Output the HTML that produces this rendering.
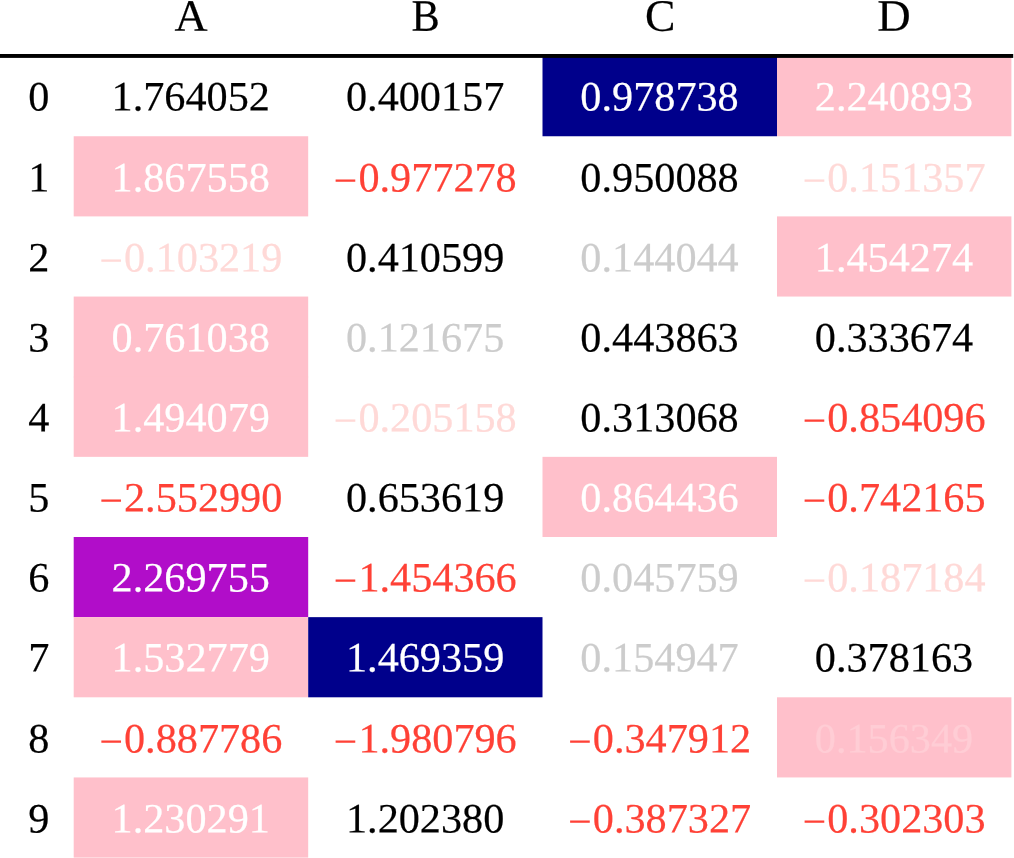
<!DOCTYPE html>
<html><head><meta charset="utf-8"><title>table</title>
<style>
html,body{margin:0;padding:0;background:#fff;}
body{width:1014px;height:858px;position:relative;overflow:hidden;font-family:"Liberation Serif",serif;}
.bgs{position:absolute;left:0;top:0;display:block;}
.t{position:absolute;width:300px;margin-left:-150px;text-align:center;font-size:41.9px;line-height:60px;height:60px;white-space:nowrap;-webkit-text-stroke:0.2px currentColor;transform-origin:150px 44.141px;}
.m{position:relative;top:3.4px;margin-right:1px;-webkit-text-stroke:0;}
.h{font-size:44.92px;transform-origin:150px 45.16px;}
</style></head><body>

<svg class="bgs" width="1014" height="858" viewBox="0 0 1014 858">
<rect x="542.5" y="56.1" width="234.5" height="80.15" fill="#00008B"/>
<rect x="777" y="56.1" width="234.4" height="80.15" fill="#FFC0CB"/>
<rect x="73.7" y="136.25" width="234.5" height="80.15" fill="#FFC0CB"/>
<rect x="777" y="216.4" width="234.4" height="80.15" fill="#FFC0CB"/>
<rect x="73.7" y="296.55" width="234.5" height="80.75" fill="#FFC0CB"/>
<rect x="73.7" y="376.7" width="234.5" height="80.15" fill="#FFC0CB"/>
<rect x="542.5" y="456.85" width="234.5" height="80.15" fill="#FFC0CB"/>
<rect x="73.7" y="537" width="234.5" height="80.15" fill="#B10DC9"/>
<rect x="73.7" y="617.15" width="234.5" height="80.15" fill="#FFC0CB"/>
<rect x="308.2" y="617.15" width="234.3" height="80.15" fill="#00008B"/>
<rect x="777" y="697.3" width="234.4" height="80.15" fill="#FFC0CB"/>
<rect x="73.7" y="777.45" width="234.5" height="80.15" fill="#FFC0CB"/>
<rect x="0" y="54" width="1013.2" height="3.9" fill="#000"/>
</svg>
<div role="table">
<div role="row">
<div role="columnheader" class="t h" style="left:191px;top:-15px;transform:translate(0.05px,0.84px) rotate(0.04deg) scale(1.02,1);">A</div>
<div role="columnheader" class="t h" style="left:425px;top:-15px;transform:translate(0.6px,0.84px) rotate(0.04deg) scale(0.94,1);">B</div>
<div role="columnheader" class="t h" style="left:660px;top:-15px;transform:translate(0.1px,0.84px) rotate(0.04deg) scale(1.016,1);">C</div>
<div role="columnheader" class="t h" style="left:893px;top:-15px;transform:translate(0.9px,0.84px) rotate(0.04deg) scale(1.03,1);">D</div>
</div>
<div role="row">
<div role="rowheader" class="t" style="left:38px;top:66px;transform:translate(0.8px,0.559px) rotate(0.04deg) scale(1.008,1);">0</div>
<div role="cell" class="t" style="left:190px;top:66px;transform:translate(0.75px,0.559px) rotate(0.04deg) scale(1.008,1);">1.764052</div>
<div role="cell" class="t" style="left:425px;top:66px;transform:translate(0.15px,0.559px) rotate(0.04deg) scale(1.008,1);">0.400157</div>
<div role="cell" class="t" style="left:659px;top:66px;transform:translate(0.55px,0.559px) rotate(0.04deg) scale(1.008,1);color:#fff;">0.978738</div>
<div role="cell" class="t" style="left:894px;top:66px;transform:translate(0px,0.559px) rotate(0.04deg) scale(1.008,1);color:#fff;">2.240893</div>
</div>
<div role="row">
<div role="rowheader" class="t" style="left:38px;top:147px;transform:translate(0.8px,0.559px) rotate(0.04deg) scale(1.008,1);">1</div>
<div role="cell" class="t" style="left:190px;top:147px;transform:translate(0.75px,0.559px) rotate(0.04deg) scale(1.008,1);color:#fff;">1.867558</div>
<div role="cell" class="t" style="left:425px;top:147px;transform:translate(0.15px,0.559px) rotate(0.04deg) scale(1.008,1);color:#FF4136;"><span class="m">−</span>0.977278</div>
<div role="cell" class="t" style="left:659px;top:147px;transform:translate(0.55px,0.559px) rotate(0.04deg) scale(1.008,1);">0.950088</div>
<div role="cell" class="t" style="left:894px;top:147px;transform:translate(0px,0.559px) rotate(0.04deg) scale(1.008,1);color:#FFD9D7;"><span class="m">−</span>0.151357</div>
</div>
<div role="row">
<div role="rowheader" class="t" style="left:38px;top:227px;transform:translate(0.8px,0.559px) rotate(0.04deg) scale(1.008,1);">2</div>
<div role="cell" class="t" style="left:190px;top:227px;transform:translate(0.75px,0.559px) rotate(0.04deg) scale(1.008,1);color:#FFD9D7;"><span class="m">−</span>0.103219</div>
<div role="cell" class="t" style="left:425px;top:227px;transform:translate(0.15px,0.559px) rotate(0.04deg) scale(1.008,1);">0.410599</div>
<div role="cell" class="t" style="left:659px;top:227px;transform:translate(0.55px,0.559px) rotate(0.04deg) scale(1.008,1);color:#CCCCCC;">0.144044</div>
<div role="cell" class="t" style="left:894px;top:227px;transform:translate(0px,0.559px) rotate(0.04deg) scale(1.008,1);color:#fff;">1.454274</div>
</div>
<div role="row">
<div role="rowheader" class="t" style="left:38px;top:307px;transform:translate(0.8px,0.559px) rotate(0.04deg) scale(1.008,1);">3</div>
<div role="cell" class="t" style="left:190px;top:307px;transform:translate(0.75px,0.559px) rotate(0.04deg) scale(1.008,1);color:#fff;">0.761038</div>
<div role="cell" class="t" style="left:425px;top:307px;transform:translate(0.15px,0.559px) rotate(0.04deg) scale(1.008,1);color:#CCCCCC;">0.121675</div>
<div role="cell" class="t" style="left:659px;top:307px;transform:translate(0.55px,0.559px) rotate(0.04deg) scale(1.008,1);">0.443863</div>
<div role="cell" class="t" style="left:894px;top:307px;transform:translate(0px,0.559px) rotate(0.04deg) scale(1.008,1);">0.333674</div>
</div>
<div role="row">
<div role="rowheader" class="t" style="left:38px;top:387px;transform:translate(0.8px,0.559px) rotate(0.04deg) scale(1.008,1);">4</div>
<div role="cell" class="t" style="left:190px;top:387px;transform:translate(0.75px,0.559px) rotate(0.04deg) scale(1.008,1);color:#fff;">1.494079</div>
<div role="cell" class="t" style="left:425px;top:387px;transform:translate(0.15px,0.559px) rotate(0.04deg) scale(1.008,1);color:#FFD9D7;"><span class="m">−</span>0.205158</div>
<div role="cell" class="t" style="left:659px;top:387px;transform:translate(0.55px,0.559px) rotate(0.04deg) scale(1.008,1);">0.313068</div>
<div role="cell" class="t" style="left:894px;top:387px;transform:translate(0px,0.559px) rotate(0.04deg) scale(1.008,1);color:#FF4136;"><span class="m">−</span>0.854096</div>
</div>
<div role="row">
<div role="rowheader" class="t" style="left:38px;top:467px;transform:translate(0.8px,0.559px) rotate(0.04deg) scale(1.008,1);">5</div>
<div role="cell" class="t" style="left:190px;top:467px;transform:translate(0.75px,0.559px) rotate(0.04deg) scale(1.008,1);color:#FF4136;"><span class="m">−</span>2.552990</div>
<div role="cell" class="t" style="left:425px;top:467px;transform:translate(0.15px,0.559px) rotate(0.04deg) scale(1.008,1);">0.653619</div>
<div role="cell" class="t" style="left:659px;top:467px;transform:translate(0.55px,0.559px) rotate(0.04deg) scale(1.008,1);color:#fff;">0.864436</div>
<div role="cell" class="t" style="left:894px;top:467px;transform:translate(0px,0.559px) rotate(0.04deg) scale(1.008,1);color:#FF4136;"><span class="m">−</span>0.742165</div>
</div>
<div role="row">
<div role="rowheader" class="t" style="left:38px;top:547px;transform:translate(0.8px,0.559px) rotate(0.04deg) scale(1.008,1);">6</div>
<div role="cell" class="t" style="left:190px;top:547px;transform:translate(0.75px,0.559px) rotate(0.04deg) scale(1.008,1);color:#fff;">2.269755</div>
<div role="cell" class="t" style="left:425px;top:547px;transform:translate(0.15px,0.559px) rotate(0.04deg) scale(1.008,1);color:#FF4136;"><span class="m">−</span>1.454366</div>
<div role="cell" class="t" style="left:659px;top:547px;transform:translate(0.55px,0.559px) rotate(0.04deg) scale(1.008,1);color:#CCCCCC;">0.045759</div>
<div role="cell" class="t" style="left:894px;top:547px;transform:translate(0px,0.559px) rotate(0.04deg) scale(1.008,1);color:#FFD9D7;"><span class="m">−</span>0.187184</div>
</div>
<div role="row">
<div role="rowheader" class="t" style="left:38px;top:627px;transform:translate(0.8px,0.559px) rotate(0.04deg) scale(1.008,1);">7</div>
<div role="cell" class="t" style="left:190px;top:627px;transform:translate(0.75px,0.559px) rotate(0.04deg) scale(1.008,1);color:#fff;">1.532779</div>
<div role="cell" class="t" style="left:425px;top:627px;transform:translate(0.15px,0.559px) rotate(0.04deg) scale(1.008,1);color:#fff;">1.469359</div>
<div role="cell" class="t" style="left:659px;top:627px;transform:translate(0.55px,0.559px) rotate(0.04deg) scale(1.008,1);color:#CCCCCC;">0.154947</div>
<div role="cell" class="t" style="left:894px;top:627px;transform:translate(0px,0.559px) rotate(0.04deg) scale(1.008,1);">0.378163</div>
</div>
<div role="row">
<div role="rowheader" class="t" style="left:38px;top:708px;transform:translate(0.8px,0.559px) rotate(0.04deg) scale(1.008,1);">8</div>
<div role="cell" class="t" style="left:190px;top:708px;transform:translate(0.75px,0.559px) rotate(0.04deg) scale(1.008,1);color:#FF4136;"><span class="m">−</span>0.887786</div>
<div role="cell" class="t" style="left:425px;top:708px;transform:translate(0.15px,0.559px) rotate(0.04deg) scale(1.008,1);color:#FF4136;"><span class="m">−</span>1.980796</div>
<div role="cell" class="t" style="left:659px;top:708px;transform:translate(0.55px,0.559px) rotate(0.04deg) scale(1.008,1);color:#FF4136;"><span class="m">−</span>0.347912</div>
<div role="cell" class="t" style="left:894px;top:708px;transform:translate(0px,0.559px) rotate(0.04deg) scale(1.008,1);color:#FFCDD5;">0.156349</div>
</div>
<div role="row">
<div role="rowheader" class="t" style="left:38px;top:788px;transform:translate(0.8px,0.559px) rotate(0.04deg) scale(1.008,1);">9</div>
<div role="cell" class="t" style="left:190px;top:788px;transform:translate(0.75px,0.559px) rotate(0.04deg) scale(1.008,1);color:#fff;">1.230291</div>
<div role="cell" class="t" style="left:425px;top:788px;transform:translate(0.15px,0.559px) rotate(0.04deg) scale(1.008,1);">1.202380</div>
<div role="cell" class="t" style="left:659px;top:788px;transform:translate(0.55px,0.559px) rotate(0.04deg) scale(1.008,1);color:#FF4136;"><span class="m">−</span>0.387327</div>
<div role="cell" class="t" style="left:894px;top:788px;transform:translate(0px,0.559px) rotate(0.04deg) scale(1.008,1);color:#FF4136;"><span class="m">−</span>0.302303</div>
</div>
</div>
</body></html>
